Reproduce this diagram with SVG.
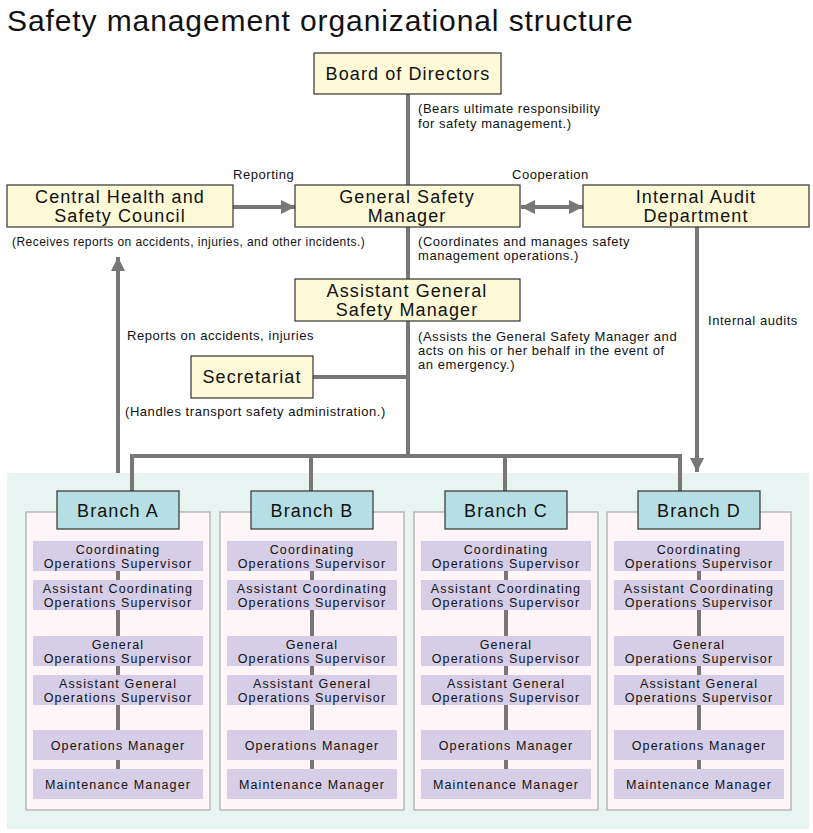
<svg xmlns="http://www.w3.org/2000/svg" width="813" height="833" viewBox="0 0 813 833">
<defs>
<marker id="ah" markerUnits="userSpaceOnUse" markerWidth="16" markerHeight="16" refX="14" refY="7" orient="auto-start-reverse">
<path d="M0,0 L14,7 L0,14 Z" fill="#777"/>
</marker>
</defs>
<style>
text{font-family:"Liberation Sans",Arial,sans-serif;fill:#111}
.title{font-size:30px;letter-spacing:0.9px}
.box{fill:#fefad8;stroke:#333;stroke-width:1.2}
.bt{font-size:18px;text-anchor:middle;letter-spacing:1.1px}
.ann{font-size:13px;letter-spacing:0.55px}
.ln{stroke:#777;stroke-width:4;fill:none}
.bg{fill:#e8f4f2}
.panel{fill:#fdf5f8;stroke:#aaa;stroke-width:1.2}
.br{fill:#b6dfe3;stroke:#333;stroke-width:1.2}
.item{fill:#d6cee6}
.it{font-size:12.5px;text-anchor:middle;letter-spacing:1.15px}
</style>
<rect width="813" height="833" fill="#fff"/>
<text class="title" x="7" y="31">Safety management organizational structure</text>
<rect class="bg" x="7" y="473" width="802" height="356"/>
<g id="connectors">
<line class="ln" x1="408" y1="94" x2="408" y2="185"/>
<line class="ln" x1="233" y1="207" x2="295" y2="207" marker-end="url(#ah)"/>
<line class="ln" x1="521" y1="207" x2="583" y2="207" marker-start="url(#ah)" marker-end="url(#ah)"/>
<line class="ln" x1="408" y1="227" x2="408" y2="279"/>
<line class="ln" x1="408" y1="321" x2="408" y2="457"/>
<line class="ln" x1="313" y1="377" x2="408" y2="377"/>
<line class="ln" x1="118" y1="473" x2="118" y2="257" marker-end="url(#ah)"/>
<line class="ln" x1="697" y1="227" x2="697" y2="472" marker-end="url(#ah)"/>
<polyline class="ln" points="132,491 132,456 680,456 680,491"/>
<line class="ln" x1="311" y1="456" x2="311" y2="491"/>
<line class="ln" x1="505" y1="456" x2="505" y2="491"/>
</g>
<g id="board"><rect class="box" x="314" y="53" width="187" height="41"/><text class="bt" x="408" y="80">Board of Directors</text></g>
<text class="ann" x="418" y="113">(Bears ultimate responsibility</text>
<text class="ann" x="418" y="128">for safety management.)</text>
<text class="ann" x="233" y="179">Reporting</text>
<text class="ann" x="512" y="179">Cooperation</text>
<g id="council"><rect class="box" x="7" y="185" width="226" height="42"/><text class="bt" x="120" y="203">Central Health and</text><text class="bt" x="120" y="222">Safety Council</text></g>
<g id="gsm"><rect class="box" x="295" y="185" width="225" height="42"/><text class="bt" x="407" y="203">General Safety</text><text class="bt" x="407" y="222">Manager</text></g>
<g id="audit"><rect class="box" x="583" y="185" width="226" height="42"/><text class="bt" x="696" y="203">Internal Audit</text><text class="bt" x="696" y="222">Department</text></g>
<text class="ann" x="12" y="246" style="font-size:12px;letter-spacing:0.45px">(Receives reports on accidents, injuries, and other incidents.)</text>
<text class="ann" x="418" y="246">(Coordinates and manages safety</text>
<text class="ann" x="418" y="260">management operations.)</text>
<g id="agsm"><rect class="box" x="295" y="279" width="225" height="42"/><text class="bt" x="407" y="297">Assistant General</text><text class="bt" x="407" y="316">Safety Manager</text></g>
<text class="ann" x="127" y="340">Reports on accidents, injuries</text>
<text class="ann" x="418" y="341">(Assists the General Safety Manager and</text>
<text class="ann" x="418" y="355">acts on his or her behalf in the event of</text>
<text class="ann" x="418" y="369">an emergency.)</text>
<text class="ann" x="708" y="325">Internal audits</text>
<g id="secretariat"><rect class="box" x="191" y="356" width="122" height="42"/><text class="bt" x="252" y="383">Secretariat</text></g>
<text class="ann" x="125" y="416">(Handles transport safety administration.)</text>

<g id="branchA">
<rect class="panel" x="26" y="512" width="184" height="298"/>
<line class="ln" x1="118" y1="571" x2="118" y2="580"/><line class="ln" x1="118" y1="610" x2="118" y2="636"/><line class="ln" x1="118" y1="666" x2="118" y2="675"/><line class="ln" x1="118" y1="705" x2="118" y2="730"/><line class="ln" x1="118" y1="760" x2="118" y2="769"/>
<rect class="br" x="57" y="491" width="122" height="38"/><text class="bt" x="118" y="517">Branch A</text>
<rect class="item" x="33" y="541" width="170" height="30"/><text class="it" x="118" y="553.5">Coordinating</text><text class="it" x="118" y="567.5">Operations Supervisor</text>
<rect class="item" x="33" y="580" width="170" height="30"/><text class="it" x="118" y="592.5">Assistant Coordinating</text><text class="it" x="118" y="606.5">Operations Supervisor</text>
<rect class="item" x="33" y="636" width="170" height="30"/><text class="it" x="118" y="648.5">General</text><text class="it" x="118" y="662.5">Operations Supervisor</text>
<rect class="item" x="33" y="675" width="170" height="30"/><text class="it" x="118" y="687.5">Assistant General</text><text class="it" x="118" y="701.5">Operations Supervisor</text>
<rect class="item" x="33" y="730" width="170" height="30"/><text class="it" x="118" y="749.5">Operations Manager</text>
<rect class="item" x="33" y="769" width="170" height="30"/><text class="it" x="118" y="788.5">Maintenance Manager</text>
</g>
<g id="branchB" transform="translate(194,0)">
<rect class="panel" x="26" y="512" width="184" height="298"/>
<line class="ln" x1="118" y1="571" x2="118" y2="580"/><line class="ln" x1="118" y1="610" x2="118" y2="636"/><line class="ln" x1="118" y1="666" x2="118" y2="675"/><line class="ln" x1="118" y1="705" x2="118" y2="730"/><line class="ln" x1="118" y1="760" x2="118" y2="769"/>
<rect class="br" x="57" y="491" width="122" height="38"/><text class="bt" x="118" y="517">Branch B</text>
<rect class="item" x="33" y="541" width="170" height="30"/><text class="it" x="118" y="553.5">Coordinating</text><text class="it" x="118" y="567.5">Operations Supervisor</text>
<rect class="item" x="33" y="580" width="170" height="30"/><text class="it" x="118" y="592.5">Assistant Coordinating</text><text class="it" x="118" y="606.5">Operations Supervisor</text>
<rect class="item" x="33" y="636" width="170" height="30"/><text class="it" x="118" y="648.5">General</text><text class="it" x="118" y="662.5">Operations Supervisor</text>
<rect class="item" x="33" y="675" width="170" height="30"/><text class="it" x="118" y="687.5">Assistant General</text><text class="it" x="118" y="701.5">Operations Supervisor</text>
<rect class="item" x="33" y="730" width="170" height="30"/><text class="it" x="118" y="749.5">Operations Manager</text>
<rect class="item" x="33" y="769" width="170" height="30"/><text class="it" x="118" y="788.5">Maintenance Manager</text>
</g>
<g id="branchC" transform="translate(388,0)">
<rect class="panel" x="26" y="512" width="184" height="298"/>
<line class="ln" x1="118" y1="571" x2="118" y2="580"/><line class="ln" x1="118" y1="610" x2="118" y2="636"/><line class="ln" x1="118" y1="666" x2="118" y2="675"/><line class="ln" x1="118" y1="705" x2="118" y2="730"/><line class="ln" x1="118" y1="760" x2="118" y2="769"/>
<rect class="br" x="57" y="491" width="122" height="38"/><text class="bt" x="118" y="517">Branch C</text>
<rect class="item" x="33" y="541" width="170" height="30"/><text class="it" x="118" y="553.5">Coordinating</text><text class="it" x="118" y="567.5">Operations Supervisor</text>
<rect class="item" x="33" y="580" width="170" height="30"/><text class="it" x="118" y="592.5">Assistant Coordinating</text><text class="it" x="118" y="606.5">Operations Supervisor</text>
<rect class="item" x="33" y="636" width="170" height="30"/><text class="it" x="118" y="648.5">General</text><text class="it" x="118" y="662.5">Operations Supervisor</text>
<rect class="item" x="33" y="675" width="170" height="30"/><text class="it" x="118" y="687.5">Assistant General</text><text class="it" x="118" y="701.5">Operations Supervisor</text>
<rect class="item" x="33" y="730" width="170" height="30"/><text class="it" x="118" y="749.5">Operations Manager</text>
<rect class="item" x="33" y="769" width="170" height="30"/><text class="it" x="118" y="788.5">Maintenance Manager</text>
</g>
<g id="branchD" transform="translate(581,0)">
<rect class="panel" x="26" y="512" width="184" height="298"/>
<line class="ln" x1="118" y1="571" x2="118" y2="580"/><line class="ln" x1="118" y1="610" x2="118" y2="636"/><line class="ln" x1="118" y1="666" x2="118" y2="675"/><line class="ln" x1="118" y1="705" x2="118" y2="730"/><line class="ln" x1="118" y1="760" x2="118" y2="769"/>
<rect class="br" x="57" y="491" width="122" height="38"/><text class="bt" x="118" y="517">Branch D</text>
<rect class="item" x="33" y="541" width="170" height="30"/><text class="it" x="118" y="553.5">Coordinating</text><text class="it" x="118" y="567.5">Operations Supervisor</text>
<rect class="item" x="33" y="580" width="170" height="30"/><text class="it" x="118" y="592.5">Assistant Coordinating</text><text class="it" x="118" y="606.5">Operations Supervisor</text>
<rect class="item" x="33" y="636" width="170" height="30"/><text class="it" x="118" y="648.5">General</text><text class="it" x="118" y="662.5">Operations Supervisor</text>
<rect class="item" x="33" y="675" width="170" height="30"/><text class="it" x="118" y="687.5">Assistant General</text><text class="it" x="118" y="701.5">Operations Supervisor</text>
<rect class="item" x="33" y="730" width="170" height="30"/><text class="it" x="118" y="749.5">Operations Manager</text>
<rect class="item" x="33" y="769" width="170" height="30"/><text class="it" x="118" y="788.5">Maintenance Manager</text>
</g>
</svg>
